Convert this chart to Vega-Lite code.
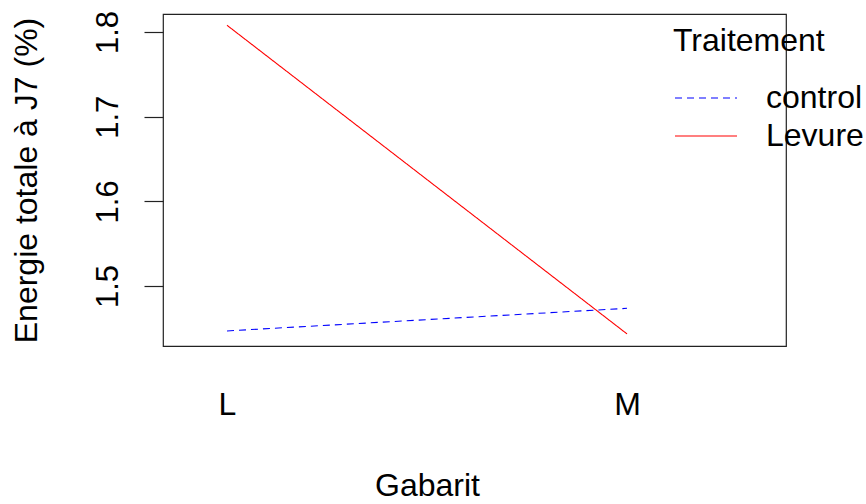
{
  "$schema": "https://vega.github.io/schema/vega-lite/v6.json",
  "autosize": {"type": "none"},
  "padding": {"left": 163, "top": 14, "right": 80, "bottom": 158},
  "width": 623,
  "height": 332,
  "background": "white",
  "config": {
    "font": "Liberation Sans",
    "view": {"stroke": "#222222", "strokeWidth": 1.2},
    "axis": {"grid": false, "labelColor": "black", "titleColor": "black", "titleFontWeight": "normal", "labelFont": "Liberation Sans", "titleFont": "Liberation Sans"},
    "legend": {"labelFont": "Liberation Sans", "titleFont": "Liberation Sans"}
  },
  "data": {
    "values": [
      {"Gabarit": "L", "Traitement": "control", "Energie": 1.447},
      {"Gabarit": "M", "Traitement": "control", "Energie": 1.4737},
      {"Gabarit": "L", "Traitement": "Levure", "Energie": 1.808},
      {"Gabarit": "M", "Traitement": "Levure", "Energie": 1.4435}
    ]
  },
  "mark": {"type": "line", "strokeWidth": 1.1},
  "encoding": {
    "x": {
      "field": "Gabarit", "type": "ordinal",
      "scale": {"type": "point", "domain": ["L", "M"], "range": [64, 464], "padding": 0},
      "axis": {"title": "Gabarit", "domain": false, "ticks": false, "labelAngle": 0, "labelFontSize": 32, "labelPadding": 43, "titleFontSize": 32, "titlePadding": 50}
    },
    "y": {
      "field": "Energie", "type": "quantitative",
      "scale": {"domain": [1.4292, 1.8213], "nice": false, "zero": false},
      "axis": {"title": "Energie totale à J7 (%)", "values": [1.5, 1.6, 1.7, 1.8], "format": ".1f", "domain": false, "ticks": true, "tickSize": 19, "tickColor": "#222222", "tickWidth": 1.2, "labelAngle": -90, "labelAlign": "center", "labelBaseline": "alphabetic", "labelFontSize": 31, "labelPadding": 27, "titleFontSize": 32, "titlePadding": 49}
    },
    "color": {
      "field": "Traitement", "type": "nominal",
      "scale": {"domain": ["control", "Levure"], "range": ["#0000FF", "#FF0000"]},
      "legend": {"title": "Traitement", "orient": "none", "legendX": 510, "legendY": 12, "padding": 0, "symbolType": "M-1.4,0H4.8", "symbolSize": 400, "symbolStrokeWidth": 1.1, "labelFontSize": 32, "labelColor": "black", "labelOffset": 61, "titleFontSize": 32, "titleFontWeight": "normal", "titleColor": "black", "titlePadding": 24, "rowPadding": 6}
    },
    "strokeDash": {
      "field": "Traitement", "type": "nominal",
      "scale": {"domain": ["control", "Levure"], "range": [[7, 5], [1, 0]]},
      "legend": {"title": "Traitement", "orient": "none", "legendX": 510, "legendY": 12, "padding": 0, "symbolType": "M-1.4,0H4.8", "symbolSize": 400, "symbolStrokeWidth": 1.1, "labelFontSize": 32, "labelColor": "black", "labelOffset": 61, "titleFontSize": 32, "titleFontWeight": "normal", "titleColor": "black", "titlePadding": 24, "rowPadding": 6}
    }
  }
}
